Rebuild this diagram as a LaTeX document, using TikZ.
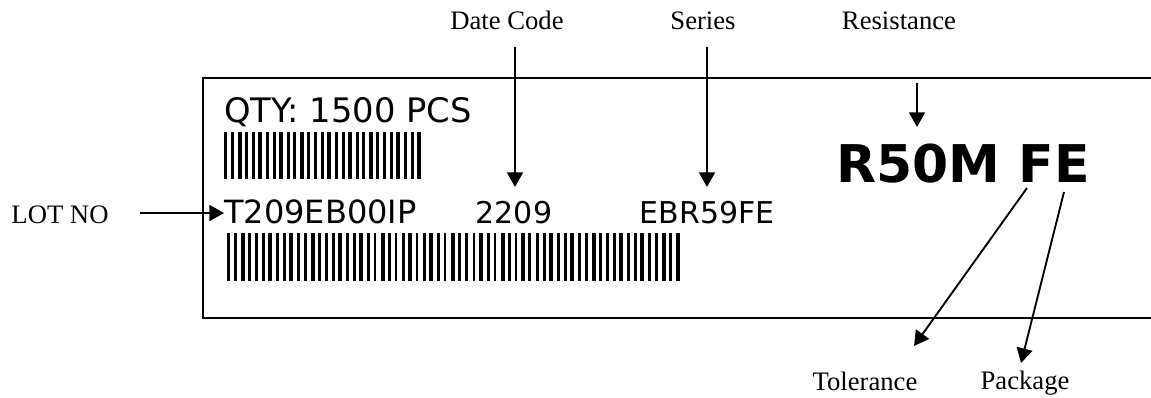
\documentclass[tikz,border=0pt]{standalone}
\usepackage{fontspec}
\setmainfont{Liberation Serif}
\newfontfamily\lblfont{DejaVu Sans}
\usetikzlibrary{arrows.meta}
\newcommand\mybarcode[4]{%
  \gdef\bcx{#1}%
  \foreach \w/\g in {#4}{%
    \fill (\bcx,#2) rectangle ++(\w,#3-#2);
    \pgfmathsetmacro\bctmp{\bcx+\w+\g}\xdef\bcx{\bctmp}%
  }}
\begin{document}
\begin{tikzpicture}[x=0.75pt,y=-0.75pt,
  caption/.style={font=\fontsize{20}{20}\selectfont, inner sep=0pt},
  labeltext/.style={font=\lblfont\fontsize{22.5}{22.5}\selectfont, inner sep=0pt},
  bigtext/.style={font=\lblfont\bfseries\fontsize{39}{39}\selectfont, inner sep=0pt},
  pointer/.style={line width=1.4pt, -{Triangle[length=11pt,width=12pt]}},
  frame/.style={line width=1.2pt}]
\useasboundingbox (0,0) rectangle (1151,397);
% label frame (open on the right)
\draw[frame] (1151,78) -- (203,78) -- (203,318) -- (1151,318);
% texts on the label
\node[labeltext, anchor=base west, font=\lblfont\fontsize{25.3}{25.3}\selectfont] (qty) at (224,122) {QTY: 1500 PCS};
\node[labeltext, anchor=base west, font=\lblfont\fontsize{24}{24}\selectfont] (lot) at (224,223) {T209EB00IP};
\node[labeltext, anchor=base] (date) at (514,223) {2209};
\node[labeltext, anchor=base] (ser) at (707,223) {EBR59FE};
\node[bigtext, anchor=base] (res) at (963,182) {R50M FE};
% barcodes
\mybarcode{224}{132}{179}{3/4,3/4,4/3,3/4,3/3,4/4,3/4,3/3,4/4,3/3,3/4,4/3,3/4,3/4,3/3,4/4,3/4,3/3,4/4,3/3,3/4,4/3,3/4,3/4,3/3,4/4,3/4,3/3,4/0}
\mybarcode{227}{233}{281}{3/4,3/4,4/3,3/4,3/4,3/3,4/4,3/4,3/3,4/4,3/4,3/4,4/3,3/4,3/4,3/3,4/4,3/4,3/3,4/4,3/4,2/5,4/3,3/4,2/5,3/3,4/4,2/5,3/3,4/4,3/4,2/5,4/3,3/4,3/5,2/4,4/4,3/4,2/5,4/3,3/4,2/4,4/3,3/5,3/4,3/3,4/4,3/4,3/3,4/4,3/4,3/4,4/3,3/4,3/4,3/3,4/4,3/4,3/3,4/4,3/4,3/4,4/3,3/4,4/0}
% captions
\node[caption, anchor=base] (cdate) at (507,29) {Date Code};
\node[caption, anchor=base] (cser) at (703,29) {Series};
\node[caption, anchor=base] (cres) at (899,29) {Resistance};
\node[caption, anchor=base] (clot) at (60,223) {LOT NO};
\node[caption, anchor=base] (ctol) at (865,390) {Tolerance};
\node[caption, anchor=base] (cpkg) at (1025,389) {Package};
% connector end points
\coordinate (lotA) at (140,213); \coordinate (lotB) at (224,213);
\coordinate (dateA) at (515,47); \coordinate (dateB) at (515,187);
\coordinate (serA) at (707,47); \coordinate (serB) at (707,187);
\coordinate (resA) at (917,83); \coordinate (resB) at (917,127);
\coordinate (tolA) at (1027,188); \coordinate (tolB) at (914,346);
\coordinate (pkgA) at (1064,192); \coordinate (pkgB) at (1021,363);
\draw[pointer] (lotA) -- (lotB);
\draw[pointer] (dateA) -- (dateB);
\draw[pointer] (serA) -- (serB);
\draw[pointer] (resA) -- (resB);
\draw[pointer] (tolA) -- (tolB);
\draw[pointer] (pkgA) -- (pkgB);
\end{tikzpicture}
\end{document}
